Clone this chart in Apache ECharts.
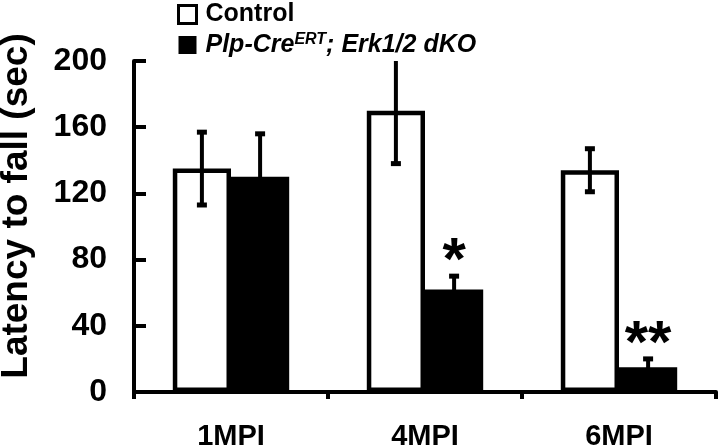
<!DOCTYPE html>
<html><head><meta charset="utf-8">
<script src="https://cdn.jsdelivr.net/npm/echarts@6/dist/echarts.min.js"></script>
<style>html,body{margin:0;padding:0;background:#fff}#c{width:720px;height:448px}</style>
</head><body><div id="c"></div>
<script>
const categories = ['1MPI', '4MPI', '6MPI'];
const controlMean = [135, 170, 134];
const controlSem = [22, 32, 13];
const dkoMean = [130, 62, 15];
const dkoSem = [26, 8, 5];
const significance = ['', '*', '**'];
const yTicks = [0, 40, 80, 120, 160, 200];
const controlName = 'Control';
const dkoName = 'Plp-CreERT; Erk1/2 dKO';
const yTitle = 'Latency to fall (sec)';

const FONT = '"Liberation Sans", Arial, Helvetica, sans-serif';
const BAR_W = 0.30;
const chart = echarts.init(document.getElementById('c'), null, {renderer: 'canvas'});

function errRender(side, sems, sigs) {
  return function (params, api) {
    const idx = api.value(0);
    const m = api.value(1);
    const e = sems[params.dataIndex];
    const band = api.size([1, 0])[0];
    const c = api.coord([idx, m]);
    const x = c[0] + side * band * BAR_W / 2;
    const top = api.coord([idx, m + e])[1];
    const bot = api.coord([idx, m - e])[1];
    const capW = 10, capH = 5;
    const children = [
      {type: 'line', shape: {x1: x, y1: top, x2: x, y2: bot}, style: {stroke: '#000', lineWidth: 4}},
      {type: 'rect', shape: {x: x - capW / 2, y: top - capH / 2, width: capW, height: capH}, style: {fill: '#000'}},
      {type: 'rect', shape: {x: x - capW / 2, y: bot - capH / 2, width: capW, height: capH}, style: {fill: '#000'}}
    ];
    const s = sigs ? sigs[params.dataIndex] : '';
    if (s) {
      const fs = 60;
      children.push({
        type: 'text',
        style: {text: s, x: x, y: top - 27 + 0.23 * fs, align: 'center', verticalAlign: 'middle',
          font: 'bold ' + fs + 'px ' + FONT, fill: '#000'}
      });
    }
    return {type: 'group', children: children};
  };
}

const option = {
  animation: false,
  backgroundColor: '#fff',
  textStyle: {fontFamily: FONT},
  grid: {left: 134, right: 4, top: 61, bottom: 56, containLabel: false, outerBoundsMode: 'none'},
  legend: {
    orient: 'vertical', left: 172, top: -3, itemWidth: 18, itemHeight: 18, itemGap: 5,
    icon: 'rect', selectedMode: false,
    textStyle: {
      fontFamily: FONT, fontSize: 25, fontWeight: 'bold', color: '#000', padding: [0, 0, 0, 4],
      rich: {
        i: {fontFamily: FONT, fontSize: 25, fontWeight: 'bold', fontStyle: 'italic', color: '#000'},
        s: {fontFamily: FONT, fontSize: 16, fontWeight: 'bold', fontStyle: 'italic', color: '#000', verticalAlign: 'top', padding: [0, 0, 10, 0]}
      }
    },
    formatter: function (name) {
      if (name === dkoName) return '{i|Plp-Cre}{s|ERT}{i|; Erk1/2 dKO}';
      return name;
    },
    data: [
      {name: controlName, itemStyle: {color: '#fff', borderColor: '#000', borderWidth: 3}},
      {name: dkoName, itemStyle: {color: '#000', borderWidth: 0}}
    ]
  },
  graphic: [{
    type: 'text', x: 17, y: 206, rotation: Math.PI / 2,
    style: {text: yTitle, align: 'center', verticalAlign: 'middle', font: 'bold 37px ' + FONT, fill: '#000'}
  }],
  xAxis: {
    type: 'category', data: categories,
    axisLine: {lineStyle: {color: '#000', width: 4}},
    axisTick: {show: true, length: 7, lineStyle: {color: '#000', width: 4}},
    axisLabel: {color: '#000', fontFamily: FONT, fontSize: 29, fontWeight: 'bold', margin: 30}
  },
  yAxis: {
    type: 'value', min: yTicks[0], max: yTicks[yTicks.length - 1], interval: yTicks[1] - yTicks[0],
    axisLine: {show: true, lineStyle: {color: '#000', width: 4}},
    axisTick: {show: true, inside: true, length: 12, lineStyle: {color: '#000', width: 4}},
    splitLine: {show: false},
    axisLabel: {color: '#000', fontFamily: FONT, fontSize: 32, fontWeight: 'bold', margin: 27}
  },
  series: [
    {type: 'bar', name: controlName, data: controlMean, barWidth: (BAR_W * 100) + '%', barGap: '0%',
      itemStyle: {color: '#fff', borderColor: '#000', borderWidth: 4.5}, z: 3},
    {type: 'bar', name: dkoName, data: dkoMean, barWidth: (BAR_W * 100) + '%', barGap: '0%',
      itemStyle: {color: '#000', borderWidth: 0}, z: 2},
    {type: 'custom', name: 'ctrlErr', data: controlMean.map((m, i) => [i, m]), clip: true, z: 5,
      renderItem: errRender(-1, controlSem, null), encode: {x: 0, y: 1}},
    {type: 'custom', name: 'dkoErr', data: dkoMean.map((m, i) => [i, m]), clip: false, z: 5,
      renderItem: errRender(1, dkoSem, significance), encode: {x: 0, y: 1}}
  ]
};
chart.setOption(option);
</script>
</body></html>
